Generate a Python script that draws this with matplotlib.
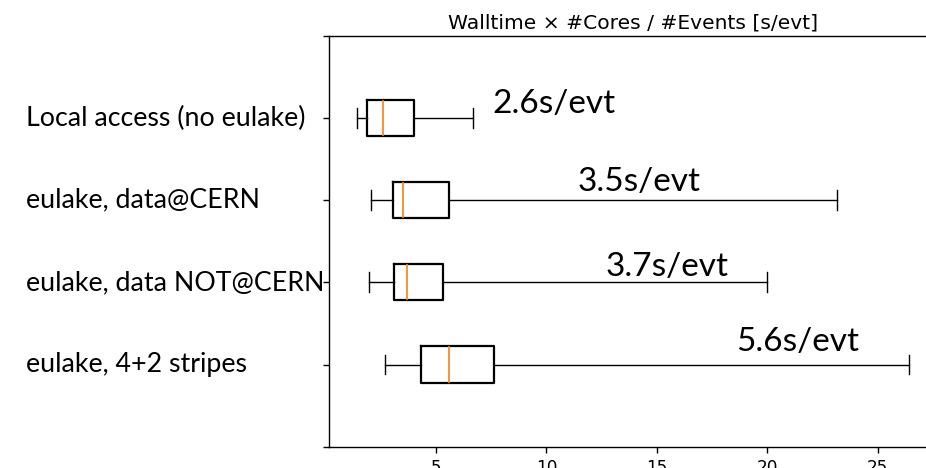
import matplotlib
matplotlib.use("Agg")
import matplotlib.pyplot as plt
import matplotlib.transforms as mtransforms

# Per-configuration timing statistics (seconds per event)
labels = ["Local access (no eulake)", "eulake, data@CERN",
          "eulake, data NOT@CERN", "eulake, 4+2 stripes"]
medians = [2.6, 3.5, 3.7, 5.6]
q1 = [1.86, 3.06, 3.08, 4.34]
q3 = [4.01, 5.58, 5.31, 7.62]
whislo = [1.43, 2.04, 1.97, 2.71]
whishi = [6.68, 23.17, 20.0, 26.43]
median_text = ["2.6s/evt", "3.5s/evt", "3.7s/evt", "5.6s/evt"]
text_x = [7.55, 11.39, 12.69, 18.6]
text_dy = [-0.065, -0.11, -0.08, -0.17]

positions = [1, 2, 3, 4]

fig = plt.figure(figsize=(9.26, 4.68), dpi=100)
ax = fig.add_axes([0.3558, 0.0455, 0.656, 0.878])

stats = [dict(med=m, q1=a, q3=b, whislo=lo, whishi=hi, fliers=[])
         for m, a, b, lo, hi in zip(medians, q1, q3, whislo, whishi)]

ax.bxp(stats, positions=positions, orientation="horizontal", widths=0.44,
       capwidths=0.24, showfliers=False,
       boxprops=dict(color="black", linewidth=1.6),
       whiskerprops=dict(color="black", linewidth=1.0),
       capprops=dict(color="black", linewidth=1.0),
       medianprops=dict(color="#ff7f0e", linewidth=1.2))

ax.set_ylim(5, 0)
ax.set_xlim(0.18, 27.68)
ax.set_yticks([0, 1, 2, 3, 4, 5])
ax.set_yticklabels([""] * 6)
ax.set_xticks([5, 10, 15, 20, 25])
ax.tick_params(axis="both", length=4.3, width=1.0, labelsize=12.2, pad=4.3)
for s in ax.spines.values():
    s.set_linewidth(1.0)

ax.set_title("Walltime \u00d7 #Cores / #Events [s/evt]", fontsize=14.6, pad=5)

label_font = ["Lato", "DejaVu Sans"]
trans = mtransforms.blended_transform_factory(fig.transFigure, ax.transData)
for pos, lab in zip(positions, labels):
    ax.text(26 / 926, pos, lab, transform=trans, ha="left", va="center",
            fontsize=19.3, family=label_font, clip_on=False)

for pos, txt, tx, dy in zip(positions, median_text, text_x, text_dy):
    ax.text(tx, pos + dy, txt, ha="left", va="baseline", fontsize=24,
            family=label_font)

fig.savefig("out.png", dpi=100)
